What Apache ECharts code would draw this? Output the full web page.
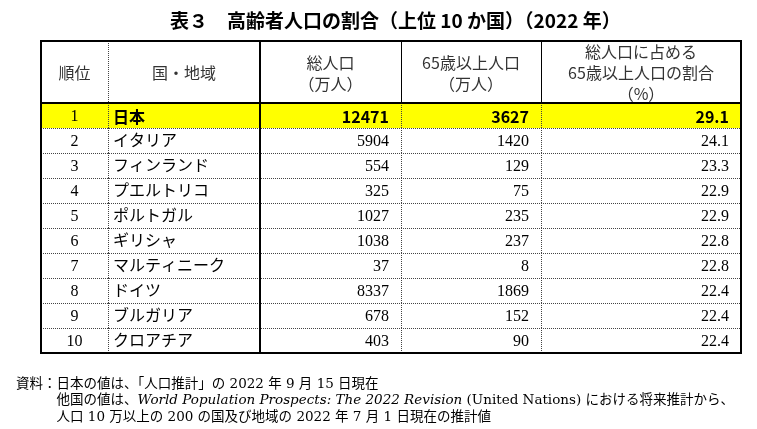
<!DOCTYPE html>
<html><head><meta charset="utf-8">
<script src="https://cdn.jsdelivr.net/npm/echarts@6/dist/echarts.min.js"></script>
<style>html,body{margin:0;padding:0;background:#fff}#c{width:757px;height:429px}</style>
</head><body><div id="c"></div>
<script>
// ---- data ----
const titleText = '表３　高齢者人口の割合（上位 10 か国）（2022 年）';
const headers = ['順位', '国・地域', '総人口\n（万人）', '65歳以上人口\n（万人）', '総人口に占める\n65歳以上人口の割合\n（%）'];
const ranks = ['1', '2', '3', '4', '5', '6', '7', '8', '9', '10'];
const countries = ['日本', 'イタリア', 'フィンランド', 'プエルトリコ', 'ポルトガル', 'ギリシャ', 'マルティニーク', 'ドイツ', 'ブルガリア', 'クロアチア'];
const totalPop = [12471, 5904, 554, 325, 1027, 1038, 37, 8337, 678, 403];
const elderlyPop = [3627, 1420, 129, 75, 235, 237, 8, 1869, 152, 90];
const elderlyShare = [29.1, 24.1, 23.3, 22.9, 22.9, 22.8, 22.8, 22.4, 22.4, 22.4];
const highlightRow = 0;
const noteLines = [
  '資料：日本の値は、「人口推計」の 2022 年 9 月 15 日現在',
  '　　　他国の値は、{it|World Population Prospects: The 2022 Revision} (United Nations) における将来推計から、',
  '　　　人口 10 万以上の 200 の国及び地域の 2022 年 7 月 1 日現在の推計値'
];

// ---- layout (axis units) ----
const colEdges = [0, 67, 219, 360, 500, 700];
const colAlign = ['center', 'left', 'right', 'right', 'right'];
const SERIF = '"Liberation Serif", "Noto Sans CJK JP", serif';
const NOTE = '"DejaVu Serif", "Noto Sans CJK JP", serif';
const SANS = '"Noto Sans CJK JP", sans-serif';
const HL = '"Liberation Sans Narrow", "Noto Sans CJK JP", sans-serif';

function px(v) { return Math.round(v) + 0.5; }

function renderBody(params, api) {
  const i = api.value(1);
  const h = api.size([0, 1])[1];
  const cy = api.coord([0, i])[1];
  const y0 = cy - h / 2, y1 = cy + h / 2;
  const xs = colEdges.map(e => api.coord([e, i])[0]);
  const ch = [];
  if (i === highlightRow) {
    ch.push({ type: 'rect', shape: { x: xs[0], y: y0, width: xs[5] - xs[0], height: h }, style: { fill: '#ffff00' } });
  }
  const texts = [ranks[i], countries[i], String(totalPop[i]), String(elderlyPop[i]), elderlyShare[i].toFixed(1)];
  texts.forEach((t, c) => {
    const a = colAlign[c];
    const x = a === 'center' ? (xs[c] + xs[c + 1]) / 2 : a === 'left' ? xs[c] + 5 : xs[c + 1] - 12;
    const hl = i === highlightRow && c > 0;
    ch.push({ type: 'text', x: x, y: cy + 1, style: {
      text: t, textAlign: a, textVerticalAlign: 'middle', fill: '#000',
      fontSize: 16, fontFamily: hl ? HL : SERIF, fontWeight: hl ? 'bold' : 'normal'
    } });
  });
  if (i < ranks.length - 1) {
    ch.push({ type: 'line', shape: { x1: xs[0], y1: px(y1), x2: xs[5], y2: px(y1) }, style: { stroke: '#444', lineWidth: 1, lineDash: [1, 1] } });
  }
  [1, 3, 4].forEach(k => {
    ch.push({ type: 'line', shape: { x1: px(xs[k]), y1: y0, x2: px(xs[k]), y2: y1 }, style: { stroke: '#444', lineWidth: 1, lineDash: [1, 1] } });
  });
  return { type: 'group', children: ch };
}

function renderFrame(params, api) {
  const bb = params.coordSys;
  const xs = colEdges.map(e => api.coord([e, 0])[0]);
  return { type: 'group', children: [
    { type: 'line', shape: { x1: xs[2], y1: bb.y, x2: xs[2], y2: bb.y + bb.height }, style: { stroke: '#000', lineWidth: 2 } },
    { type: 'rect', shape: { x: bb.x, y: bb.y, width: bb.width, height: bb.height }, style: { fill: 'none', stroke: '#000', lineWidth: 2 } }
  ] };
}

function renderHeader(params, api) {
  const bb = params.coordSys;
  const cy = api.coord([0, api.value(1)])[1];
  const xs = colEdges.map(e => api.coord([e, 0])[0]);
  const ch = [];
  headers.forEach((t, c) => {
    ch.push({ type: 'text', x: (xs[c] + xs[c + 1]) / 2, y: cy + 1, style: {
      text: t, textAlign: 'center', textVerticalAlign: 'middle', fill: '#333',
      fontSize: 16, lineHeight: 21, fontFamily: SANS
    } });
  });
  ch.push({ type: 'line', shape: { x1: px(xs[1]), y1: bb.y, x2: px(xs[1]), y2: bb.y + bb.height }, style: { stroke: '#444', lineWidth: 1, lineDash: [1, 1] } });
  [3, 4].forEach(k => {
    ch.push({ type: 'line', shape: { x1: px(xs[k]), y1: bb.y, x2: px(xs[k]), y2: bb.y + bb.height }, style: { stroke: '#000', lineWidth: 1 } });
  });
  return { type: 'group', children: ch };
}

const chart = echarts.init(document.getElementById('c'), null, { renderer: 'canvas' });
chart.setOption({
  animation: false,
  backgroundColor: '#fff',
  title: [
    { text: titleText, left: 165, top: 6, textStyle: { fontSize: 19, fontWeight: 'bold', fontFamily: SANS, color: '#000' } },
    { text: noteLines.join('\n'), left: 11, top: 371, textStyle: {
      fontSize: 13.5, lineHeight: 16.5, fontFamily: NOTE, color: '#000', fontWeight: 'normal',
      rich: { it: { fontStyle: 'italic', fontSize: 13.5, lineHeight: 16.5, fontFamily: NOTE, color: '#000' } }
    } }
  ],
  grid: [
    { left: 41, top: 41, width: 700, height: 62 },
    { left: 41, top: 103, width: 700, height: 250 }
  ],
  xAxis: [
    { gridIndex: 0, type: 'value', min: 0, max: 700, show: false },
    { gridIndex: 1, type: 'value', min: 0, max: 700, show: false }
  ],
  yAxis: [
    { gridIndex: 0, type: 'value', min: 0, max: 1, show: false },
    { gridIndex: 1, type: 'category', data: ranks, inverse: true, show: false }
  ],
  series: [
    { type: 'custom', xAxisIndex: 0, yAxisIndex: 0, data: [[0, 0.5]], renderItem: renderHeader, z: 2 },
    { type: 'custom', xAxisIndex: 1, yAxisIndex: 1, data: ranks.map((r, i) => [0, i]), renderItem: renderBody, z: 2 },
    { type: 'custom', xAxisIndex: 0, yAxisIndex: 0, data: [[0, 0.5]], renderItem: renderFrame, z: 5 },
    { type: 'custom', xAxisIndex: 1, yAxisIndex: 1, data: [[0, 0]], renderItem: renderFrame, z: 5 }
  ]
});
</script>
</body></html>
